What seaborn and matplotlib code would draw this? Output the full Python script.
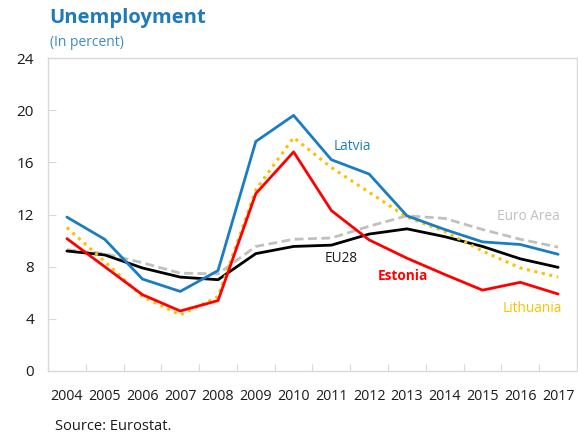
import matplotlib
matplotlib.use("Agg")
import matplotlib.pyplot as plt
import seaborn as sns
import pandas as pd

years = list(range(2004, 2018))
euro_area = [9.3, 9.0, 8.3, 7.5, 7.45, 9.55, 10.1, 10.2, 11.1, 11.9, 11.7, 10.85, 10.1, 9.5]
eu28 = [9.2, 8.9, 7.9, 7.2, 7.0, 9.0, 9.55, 9.65, 10.5, 10.9, 10.3, 9.55, 8.6, 7.95]
lithuania = [11.0, 8.4, 5.7, 4.3, 5.7, 13.9, 17.9, 15.6, 13.7, 11.8, 10.7, 9.2, 7.9, 7.2]
estonia = [10.15, 8.0, 5.85, 4.6, 5.4, 13.6, 16.8, 12.3, 10.05, 8.65, 7.4, 6.2, 6.8, 5.9]
latvia = [11.8, 10.1, 7.05, 6.1, 7.7, 17.6, 19.6, 16.2, 15.1, 11.9, 10.85, 9.9, 9.7, 8.95]

y_ticks = [0, 4, 8, 12, 16, 20, 24]

sns.set_theme(style="white")
plt.rcParams["font.family"] = ["Open Sans", "DejaVu Sans"]

fig = plt.figure(figsize=(5.78, 4.34), dpi=100)
ax = fig.add_axes([48 / 578, 1 - 371 / 434, 529 / 578, 313 / 434])

series = [
    ("Euro Area", euro_area, "#c0c0c0", (0, (3.2, 1.6)), 2.0),
    ("EU28", eu28, "#000000", "-", 2.0),
    ("Lithuania", lithuania, "#ffc000", (0, (1.0, 1.5)), 2.2),
    ("Estonia", estonia, "#ff0000", "-", 2.0),
    ("Latvia", latvia, "#1a7dc4", "-", 2.0),
]
for name, vals, color, ls, lw in series:
    df = pd.DataFrame({"year": years, "value": vals})
    sns.lineplot(data=df, x="year", y="value", ax=ax, color=color,
                 linewidth=lw, linestyle=ls, legend=False)
    ax.lines[-1].set_dash_capstyle("butt")

ax.set_xlim(2003.5, 2017.5)
ax.set_ylim(0, 24)
ax.set_yticks(y_ticks)
ax.set_yticklabels([str(t) for t in y_ticks])
ax.set_xticks(years)
ax.set_xticklabels([str(y) for y in years])
ax.set_xticks([y + 0.5 for y in years[:-1]], minor=True)
ax.set_xlabel("")
ax.set_ylabel("")

for side in ["left", "right", "top", "bottom"]:
    ax.spines[side].set_visible(True)
    ax.spines[side].set_color("#d9d9d9")
    ax.spines[side].set_linewidth(1.0)

ax.tick_params(axis="y", which="major", direction="in", length=6, width=0.8,
               color="#d9d9d9", labelsize=11, pad=10, left=True, labelcolor="#1a1a1a")
ax.tick_params(axis="x", which="major", length=0, labelsize=10.3, pad=13, labelcolor="#1a1a1a")
ax.tick_params(axis="x", which="minor", direction="in", length=5, width=0.8,
               color="#d9d9d9", bottom=True)

# Series labels placed next to their lines
ax.text(2011.56, 17.25, "Latvia", color="#1a7dc4", fontsize=9.8, ha="center", va="center")
ax.text(2016.22, 11.82, "Euro Area", color="#bfbfbf", fontsize=9.8, ha="center", va="center")
ax.text(2011.25, 8.6, "EU28", color="#1a1a1a", fontsize=9.8, ha="center", va="center")
ax.text(2012.9, 7.25, "Estonia", color="#ff0000", fontsize=9.8, fontweight="bold",
        ha="center", va="center")
ax.text(2016.33, 4.8, "Lithuania", color="#ffc000", fontsize=9.8, ha="center", va="center")

fig.text(49 / 578, 1 - 18 / 434, "Unemployment", color="#1f7ab8", fontsize=14.5,
         fontweight="bold", ha="left", va="center")
fig.text(50 / 578, 1 - 43 / 434, "(In percent)", color="#3d8cc4", fontsize=10,
         ha="left", va="center")
fig.text(55 / 578, 1 - 427 / 434, "Source: Eurostat.", color="#1a1a1a", fontsize=10.5,
         ha="left", va="center")

fig.savefig("out.png", dpi=100)
